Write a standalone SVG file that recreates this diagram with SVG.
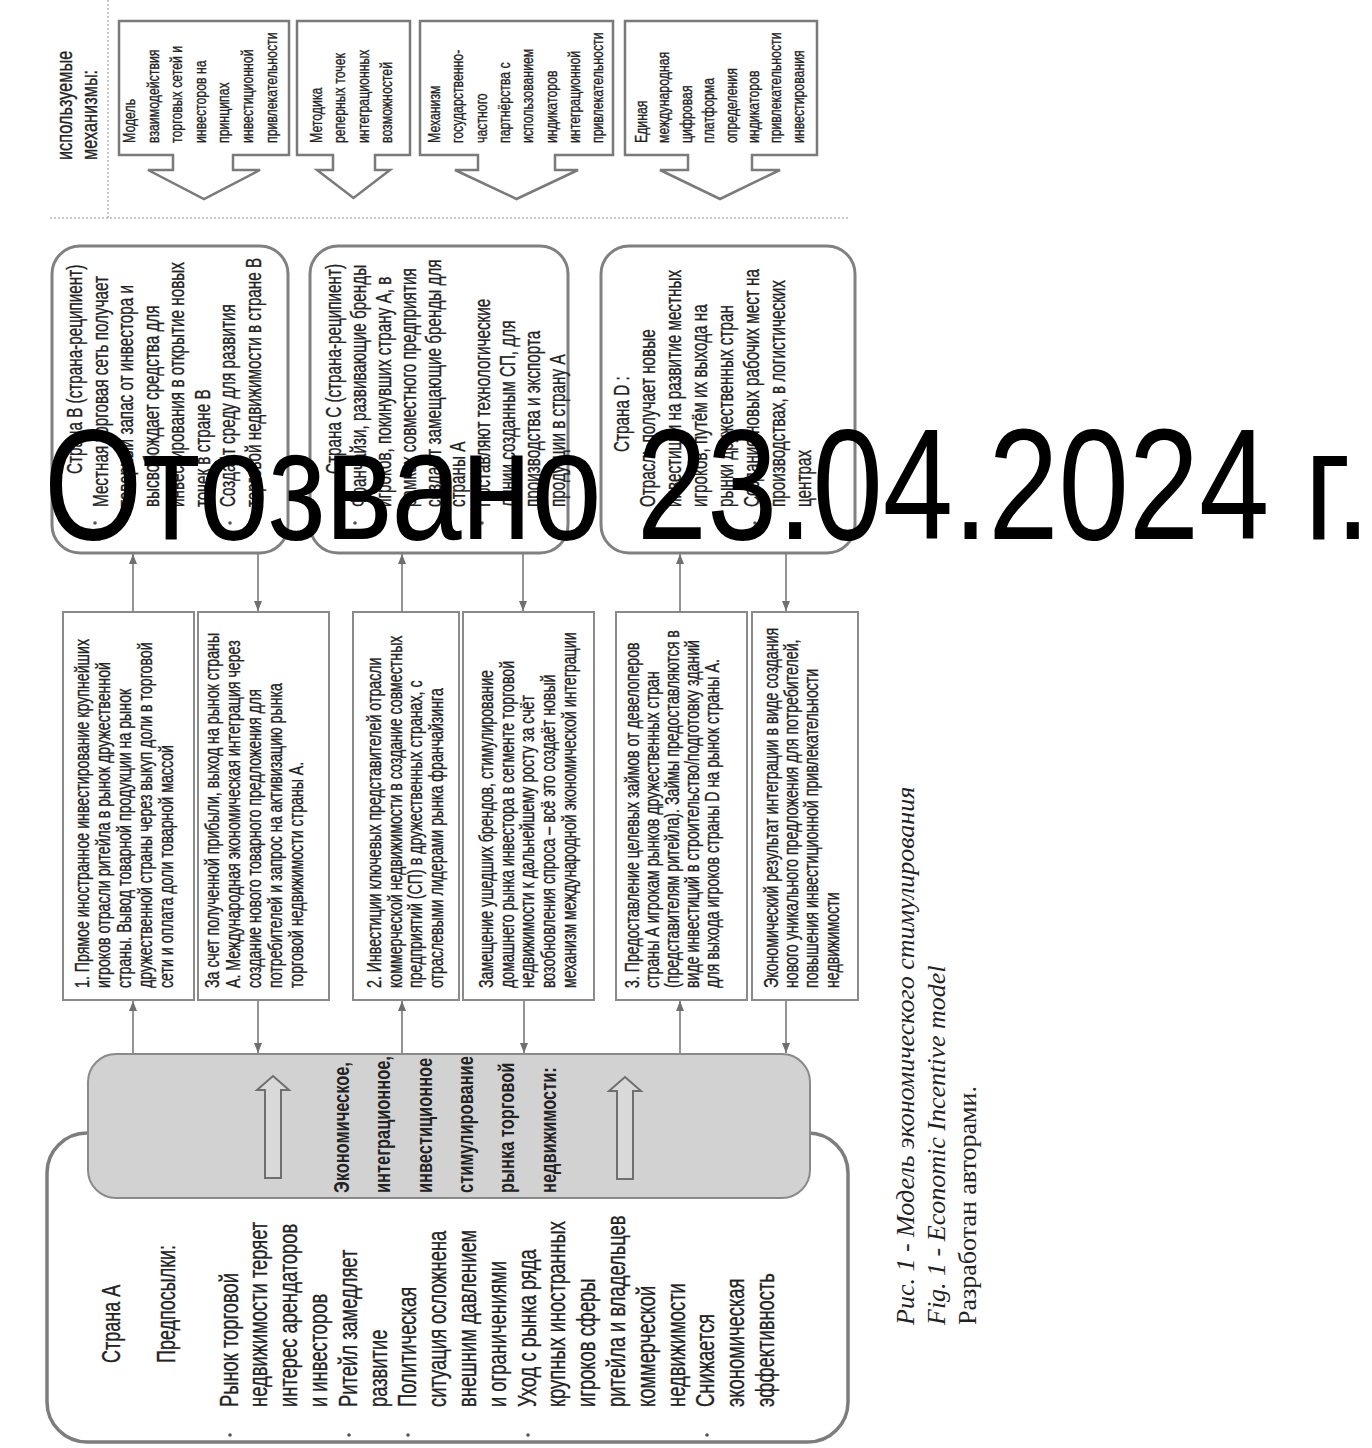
<svg xmlns="http://www.w3.org/2000/svg" width="1372" height="1448" viewBox="0 0 1372 1448">
<style>
.t{font-family:"Liberation Sans",Arial,sans-serif;fill:#222;stroke:#222;stroke-width:0.35}
.h{font-size:22.7px}
.m{font-size:17.1px}
.c{font-size:21.2px}
.mid{font-size:19.7px}
.b{font-size:22.8px;font-weight:bold;stroke-width:0}
.a{font-size:25.5px}
.cap{font-family:"Liberation Serif","Times New Roman",serif;font-size:26px;fill:#222}
.wm{font-family:"Liberation Sans",Arial,sans-serif;font-size:158px;fill:#000}
.mech{fill:#fff;stroke:#7a7a7a;stroke-width:2.5}
.cbox{fill:#fff;stroke:#808080;stroke-width:3}
.mbox{fill:#fff;stroke:#8a8a8a;stroke-width:2}
.gbox{fill:#d2d2d2;stroke:#8a8a8a;stroke-width:2}
.abox{fill:#fff;stroke:#7d7d7d;stroke-width:3.5}
.barrow{fill:#d9d9d9;stroke:#6f6f6f;stroke-width:2}
.conn{stroke:#7a7a7a;stroke-width:1.6;fill:none;marker-end:url(#ah)}
.dl{stroke:#b5b5b5;stroke-width:1.5;stroke-dasharray:2 2;fill:none}
.dot{fill:#555}
</style>
<defs>
<marker id="ah" markerUnits="userSpaceOnUse" markerWidth="10" markerHeight="8" refX="10" refY="4" orient="auto">
<path d="M0,0 L10,4 L0,8 Z" fill="#6f6f6f"/>
</marker>
</defs>
<rect width="1372" height="1448" fill="#fff"/>

<g id="header">
<line class="dl" x1="108" y1="0" x2="108" y2="218"/>
<line class="dl" x1="50" y1="218" x2="848" y2="218"/>
<text class="t h" transform="translate(72,160) rotate(-90) scale(0.72,1)"><tspan x="0" y="0">используемые</tspan><tspan x="0" dy="25">механизмы:</tspan></text>
</g>

<g id="mech-1">
<path class="mech" d="M119,21 H289 V155 H233 V170 H260 L204,199 L148,170 H173 V155 H119 Z"/>
<text class="t m" transform="translate(135.1,143) rotate(-90) scale(0.72,1)"><tspan x="0" y="0">Модель</tspan><tspan x="0" dy="23.6">взаимодействия</tspan><tspan x="0" dy="23.6">торговых сетей и</tspan><tspan x="0" dy="23.6">инвесторов на</tspan><tspan x="0" dy="23.6">принципах</tspan><tspan x="0" dy="23.6">инвестиционной</tspan><tspan x="0" dy="23.6">привлекательности</tspan></text>
</g>
<g id="mech-2">
<path class="mech" d="M297,21 H410 V155 H375 V170 H390 L353.5,198 L317,170 H333 V155 H297 Z"/>
<text class="t m" transform="translate(322.1,143) rotate(-90) scale(0.72,1)"><tspan x="0" y="0">Методика</tspan><tspan x="0" dy="23.3">реперных точек</tspan><tspan x="0" dy="23.3">интеграционных</tspan><tspan x="0" dy="23.3">возможностей</tspan></text>
</g>
<g id="mech-3">
<path class="mech" d="M420,21 H613 V155 H555 V170 H578 L516.5,199 L455,170 H478 V155 H420 Z"/>
<text class="t m" transform="translate(440.1,143) rotate(-90) scale(0.72,1)"><tspan x="0" y="0">Механизм</tspan><tspan x="0" dy="23.3">государственно-</tspan><tspan x="0" dy="23.3">частного</tspan><tspan x="0" dy="23.3">партнёрства с</tspan><tspan x="0" dy="23.3">использованием</tspan><tspan x="0" dy="23.3">индикаторов</tspan><tspan x="0" dy="23.3">интеграционной</tspan><tspan x="0" dy="23.3">привлекательности</tspan></text>
</g>
<g id="mech-4">
<path class="mech" d="M625,21 H817 V155 H752 V170 H780 L720,199 L660,170 H688 V155 H625 Z"/>
<text class="t m" transform="translate(647.1,143) rotate(-90) scale(0.72,1)"><tspan x="0" y="0">Единая</tspan><tspan x="0" dy="22.4">международная</tspan><tspan x="0" dy="22.4">цифровая</tspan><tspan x="0" dy="22.4">платформа</tspan><tspan x="0" dy="22.4">определения</tspan><tspan x="0" dy="22.4">индикаторов</tspan><tspan x="0" dy="22.4">привлекательности</tspan><tspan x="0" dy="22.4">инвестирования</tspan></text>
</g>

<g id="country-b">
<rect class="cbox" x="52" y="246" width="236" height="307" rx="28"/>
<circle class="dot" cx="95" cy="523" r="1.8"/><circle class="dot" cx="230" cy="523" r="1.8"/>
<text class="t c" transform="translate(82.4,474) rotate(-90) scale(0.72,1)">Страна В (страна-реципиент)</text>
<text class="t c" transform="translate(107.9,507) rotate(-90) scale(0.72,1)"><tspan x="0" y="0">Местная торговая сеть получает</tspan><tspan x="0" dy="25.5">товарный запас от инвестора и</tspan><tspan x="0" dy="25.5">высвобождает средства для</tspan><tspan x="0" dy="25.5">инвестирования в открытие новых</tspan><tspan x="0" dy="25.5">точек в стране В</tspan><tspan x="0" dy="25.5">Создаёт среду для развития</tspan><tspan x="0" dy="25.5">торговой недвижимости в стране В</tspan></text>
</g>
<g id="country-c">
<rect class="cbox" x="310" y="246" width="258" height="307" rx="28"/>
<circle class="dot" cx="355" cy="523" r="1.8"/><circle class="dot" cx="482" cy="523" r="1.8"/>
<text class="t c" transform="translate(341.4,474) rotate(-90) scale(0.72,1)">Страна С (страна-реципиент)</text>
<text class="t c" transform="translate(366.2,507) rotate(-90) scale(0.72,1)"><tspan x="0" y="0">Франчайзи, развивающие бренды</tspan><tspan x="0" dy="24.8">игроков, покинувших страну А, в</tspan><tspan x="0" dy="24.8">рамках совместного предприятия</tspan><tspan x="0" dy="24.8">создают замещающие бренды для</tspan><tspan x="0" dy="24.8">страны А</tspan><tspan x="0" dy="24.8">Поставляют технологические</tspan><tspan x="0" dy="24.8">линии созданным СП, для</tspan><tspan x="0" dy="24.8">производства и экспорта</tspan><tspan x="0" dy="24.8">продукции в страну А</tspan></text>
</g>
<g id="country-d">
<rect class="cbox" x="601" y="246" width="254" height="307" rx="28"/>
<circle class="dot" cx="652" cy="523" r="1.8"/><circle class="dot" cx="755" cy="523" r="1.8"/>
<text class="t c" transform="translate(629.4,452) rotate(-90) scale(0.72,1)">Страна D :</text>
<text class="t c" transform="translate(655.4,507) rotate(-90) scale(0.72,1)"><tspan x="0" y="0">Отрасль получает новые</tspan><tspan x="0" dy="26">инвестиции на развитие местных</tspan><tspan x="0" dy="26">игроков, путём их выхода на</tspan><tspan x="0" dy="26">рынки дружественных стран</tspan><tspan x="0" dy="26">Создание новых рабочих мест на</tspan><tspan x="0" dy="26">производствах, в логистических</tspan><tspan x="0" dy="26">центрах</tspan></text>
</g>

<g id="step-1">
<rect class="mbox" x="63" y="612" width="131" height="388"/>
<text class="t mid" transform="translate(88.9,988) rotate(-90) scale(0.72,1)"><tspan x="0" y="0">1. Прямое иностранное инвестирование крупнейших</tspan><tspan x="0" dy="21">игроков отрасли ритейла в рынок дружественной</tspan><tspan x="0" dy="21">страны. Вывод товарной продукции на рынок</tspan><tspan x="0" dy="21">дружественной страны через выкуп доли в торговой</tspan><tspan x="0" dy="21">сети и оплата доли товарной массой</tspan></text>
</g>
<g id="result-1">
<rect class="mbox" x="198" y="612" width="131" height="388"/>
<text class="t mid" transform="translate(218.9,988) rotate(-90) scale(0.72,1)"><tspan x="0" y="0">За счет полученной прибыли, выход на рынок страны</tspan><tspan x="0" dy="21">А. Международная экономическая интеграция через</tspan><tspan x="0" dy="21">создание нового товарного предложения для</tspan><tspan x="0" dy="21">потребителей и запрос на активизацию рынка</tspan><tspan x="0" dy="21">торговой недвижимости страны А.</tspan></text>
</g>
<g id="step-2">
<rect class="mbox" x="353" y="612" width="106" height="388"/>
<text class="t mid" transform="translate(380.9,988) rotate(-90) scale(0.72,1)"><tspan x="0" y="0">2. Инвестиции ключевых представителей отрасли</tspan><tspan x="0" dy="20.7">коммерческой недвижимости в создание совместных</tspan><tspan x="0" dy="20.7">предприятий (СП) в дружественных странах, с</tspan><tspan x="0" dy="20.7">отраслевыми лидерами рынка франчайзинга</tspan></text>
</g>
<g id="result-2">
<rect class="mbox" x="463" y="612" width="131" height="388"/>
<text class="t mid" transform="translate(492.9,988) rotate(-90) scale(0.72,1)"><tspan x="0" y="0">Замещение ушедших брендов, стимулирование</tspan><tspan x="0" dy="20.8">домашнего рынка инвестора в сегменте торговой</tspan><tspan x="0" dy="20.8">недвижимости к дальнейшему росту за счёт</tspan><tspan x="0" dy="20.8">возобновления спроса – всё это создаёт новый</tspan><tspan x="0" dy="20.8">механизм международной экономической интеграции</tspan></text>
</g>
<g id="step-3">
<rect class="mbox" x="616" y="612" width="131" height="388"/>
<text class="t mid" transform="translate(638.9,988) rotate(-90) scale(0.72,1)"><tspan x="0" y="0">3. Предоставление целевых займов от девелоперов</tspan><tspan x="0" dy="20">страны А игрокам рынков дружественных стран</tspan><tspan x="0" dy="20">(представителям ритейла). Займы предоставляются в</tspan><tspan x="0" dy="20">виде инвестиций в строительство/подготовку зданий</tspan><tspan x="0" dy="20">для выхода игроков страны D на рынок страны А.</tspan></text>
</g>
<g id="result-3">
<rect class="mbox" x="752" y="612" width="106" height="388"/>
<text class="t mid" transform="translate(777.9,988) rotate(-90) scale(0.72,1)"><tspan x="0" y="0">Экономический результат интеграции в виде создания</tspan><tspan x="0" dy="20.3">нового уникального предложения для потребителей,</tspan><tspan x="0" dy="20.3">повышения инвестиционной привлекательности</tspan><tspan x="0" dy="20.3">недвижимости</tspan></text>
</g>

<g id="country-a">
<rect class="abox" x="47" y="1133" width="801" height="309" rx="40"/>
<text class="t" style="font-size:25px" transform="translate(120,1363) rotate(-90) scale(0.72,1)">Страна А</text>
<text class="t" style="font-size:25px" transform="translate(174.5,1363) rotate(-90) scale(0.72,1)">Предпосылки:</text>
<circle class="dot" cx="230" cy="1435" r="1.8"/><circle class="dot" cx="349" cy="1435" r="1.8"/><circle class="dot" cx="408" cy="1435" r="1.8"/><circle class="dot" cx="528" cy="1435" r="1.8"/><circle class="dot" cx="707" cy="1435" r="1.8"/>
<text class="t a" transform="translate(237.6,1407) rotate(-90) scale(0.72,1)"><tspan x="0" y="0">Рынок торговой</tspan><tspan x="0" dy="29.8">недвижимости теряет</tspan><tspan x="0" dy="29.8">интерес арендаторов</tspan><tspan x="0" dy="29.8">и инвесторов</tspan><tspan x="0" dy="29.8">Ритейл замедляет</tspan><tspan x="0" dy="29.8">развитие</tspan><tspan x="0" dy="29.8">Политическая</tspan><tspan x="0" dy="29.8">ситуация осложнена</tspan><tspan x="0" dy="29.8">внешним давлением</tspan><tspan x="0" dy="29.8">и ограничениями</tspan><tspan x="0" dy="29.8">Уход с рынка ряда</tspan><tspan x="0" dy="29.8">крупных иностранных</tspan><tspan x="0" dy="29.8">игроков сферы</tspan><tspan x="0" dy="29.8">ритейла и владельцев</tspan><tspan x="0" dy="29.8">коммерческой</tspan><tspan x="0" dy="29.8">недвижимости</tspan><tspan x="0" dy="29.8">Снижается</tspan><tspan x="0" dy="29.8">экономическая</tspan><tspan x="0" dy="29.8">эффективность</tspan></text>
</g>

<g id="stimulus">
<rect class="gbox" x="88" y="1054" width="722" height="144" rx="28"/>
<path class="barrow" d="M273,1076 L289,1090 H281 V1178 H265 V1090 H257 Z"/>
<path class="barrow" d="M625,1077 L641,1091 H633 V1179 H617 V1091 H609 Z"/>
<text class="t b" transform="translate(348.8,1193) rotate(-90) scale(0.72,1)"><tspan x="0" y="0">Экономическое,</tspan><tspan x="0" dy="41.4">интеграционное,</tspan><tspan x="0" dy="41.4">инвестиционное</tspan><tspan x="0" dy="41.4">стимулирование</tspan><tspan x="0" dy="41.4">рынка торговой</tspan><tspan x="0" dy="41.4">недвижимости:</tspan></text>
</g>

<g id="connectors">
<line class="conn" x1="133" y1="612" x2="133" y2="554"/>
<line class="conn" x1="402" y1="612" x2="402" y2="554"/>
<line class="conn" x1="680" y1="612" x2="680" y2="554"/>
<line class="conn" x1="258" y1="554" x2="258" y2="611"/>
<line class="conn" x1="523" y1="554" x2="523" y2="611"/>
<line class="conn" x1="786" y1="554" x2="786" y2="611"/>
<line class="conn" x1="133" y1="1053" x2="133" y2="1001"/>
<line class="conn" x1="402" y1="1053" x2="402" y2="1001"/>
<line class="conn" x1="680" y1="1053" x2="680" y2="1001"/>
<line class="conn" x1="258" y1="1001" x2="258" y2="1053"/>
<line class="conn" x1="524" y1="1001" x2="524" y2="1053"/>
<line class="conn" x1="786" y1="1001" x2="786" y2="1053"/>
</g>

<g id="caption">
<text class="cap" transform="translate(914,1325) rotate(-90)"><tspan x="0" y="0" font-style="italic">Рис. 1 - Модель экономического стимулирования</tspan><tspan x="0" dy="31" font-style="italic">Fig. 1 - Economic Incentive model</tspan><tspan x="0" dy="31">Разработан авторами.</tspan></text>
</g>

<g id="watermark">
<text class="wm" transform="translate(44,539) scale(0.8,1)" x="0" y="0">Отозвано 23.04.2024 г.</text>
</g>
</svg>
